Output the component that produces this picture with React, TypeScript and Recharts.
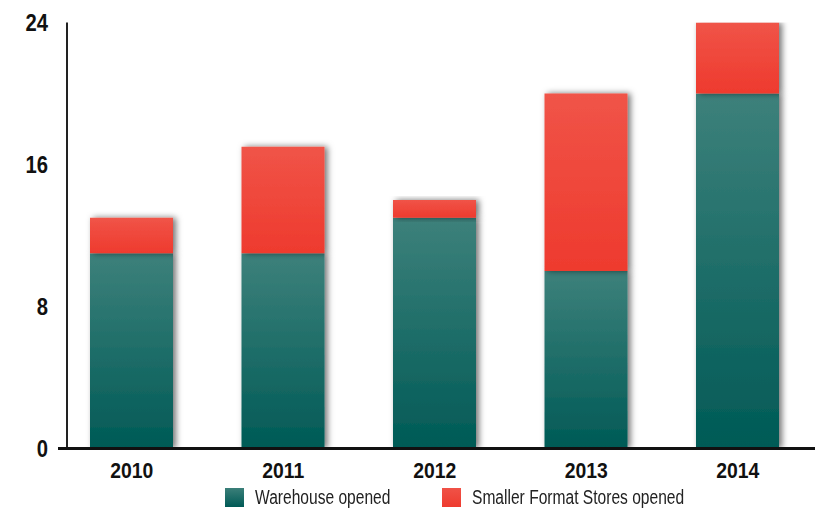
import React from 'react';
import { BarChart, Bar, XAxis, YAxis, Legend, Rectangle } from 'recharts';

const years = ['2010', '2011', '2012', '2013', '2014'];
const warehouseOpened = [11, 11, 13, 10, 20];
const smallerFormatOpened = [2, 6, 1, 10, 4];
const yTicks = [0, 8, 16, 24];
const seriesOrder = ['warehouse', 'smaller'];

const data = years.map((year, i) => ({
  year,
  warehouse: warehouseOpened[i],
  smaller: smallerFormatOpened[i],
}));

const FONT = '"Liberation Sans", Arial, sans-serif';

const TealShape = (props: any) => (
  <Rectangle {...props} fill="url(#tealGrad)" filter="url(#barShadow)" />
);
const RedShape = (props: any) => (
  <Rectangle {...props} fill="url(#redGrad)" filter="url(#barShadow)" />
);

const YTick = (props: any) => {
  const { x, y, payload } = props;
  return (
    <g>
      {payload.value === 0 && (
        <line x1={x + 10} x2={x + 20} y1={y} y2={y} stroke="#111" strokeWidth={3} />
      )}
      <text
        transform={`translate(${x},${y}) scale(0.88,1)`}
        x={0}
        y={0}
        dy="0.36em"
        textAnchor="end"
        fill="#111"
        fontFamily={FONT}
        fontWeight={700}
        fontSize={23}
      >
        {payload.value}
      </text>
    </g>
  );
};

const XTick = (props: any) => {
  const { x, y, payload } = props;
  return (
    <text
      transform={`translate(${x},${y}) scale(0.88,1)`}
      x={0}
      y={0}
      dy="0.75em"
      textAnchor="middle"
      fill="#111"
      fontFamily={FONT}
      fontWeight={700}
      fontSize={22}
    >
      {payload.value}
    </text>
  );
};

const legendColors: Record<string, [string, string]> = {
  warehouse: ['#3b7f79', '#005a56'],
  smaller: ['#f05247', '#ee3b2f'],
};
const legendLeft: Record<string, number> = { warehouse: 0, smaller: 217 };

const LegendContent = (props: any) => {
  const items = [...(props.payload || [])].sort(
    (a: any, b: any) => seriesOrder.indexOf(a.dataKey) - seriesOrder.indexOf(b.dataKey)
  );
  return (
    <div style={{ position: 'relative', width: 470, height: 20, fontFamily: FONT, fontSize: 19, color: '#222' }}>
      {items.map((p: any) => {
        const c = legendColors[p.dataKey];
        return (
          <div key={p.dataKey} style={{ position: 'absolute', left: legendLeft[p.dataKey], top: 0, display: 'flex', alignItems: 'center', whiteSpace: 'nowrap' }}>
            <div style={{ width: 19, height: 19, marginRight: 11, background: `linear-gradient(${c[0]}, ${c[1]})` }} />
            <span style={{ display: 'inline-block', transform: 'scale(0.82,1.05)', transformOrigin: 'left center', lineHeight: '19px' }}>{p.value}</span>
          </div>
        );
      })}
    </div>
  );
};

export default function App() {
  return (
    <div style={{ position: 'absolute', left: 0, top: 0, width: 817, height: 510, background: '#fff' }}>
      <BarChart width={817} height={510} data={data} margin={{ top: 22.5, right: 2, bottom: 0, left: 0 }}>
        <defs>
          <linearGradient id="tealGrad" x1="0" y1="0" x2="0" y2="1">
            <stop offset="0%" stopColor="#3d817b" />
            <stop offset="100%" stopColor="#005a56" />
          </linearGradient>
          <linearGradient id="redGrad" x1="0" y1="0" x2="0" y2="1">
            <stop offset="0%" stopColor="#f05448" />
            <stop offset="100%" stopColor="#ee3a2e" />
          </linearGradient>
          <filter id="barShadow" x="-20%" y="-20%" width="150%" height="140%">
            <feDropShadow dx={3} dy={0} stdDeviation={3} floodColor="#000" floodOpacity={0.55} />
          </filter>
        </defs>
        <XAxis
          dataKey="year"
          height={41.5}
          padding={{ left: -11, right: 1.5 }}
          axisLine={{ stroke: '#111', strokeWidth: 3 }}
          tickLine={false}
          tickSize={0}
          tickMargin={13}
          tick={<XTick />}
          interval={0}
        />
        <YAxis
          width={67}
          domain={[0, 24]}
          ticks={yTicks}
          axisLine={{ stroke: '#222', strokeWidth: 2 }}
          tickLine={false}
          tickSize={0}
          tickMargin={19}
          tick={<YTick />}
          allowDataOverflow
        />
        <Legend
          verticalAlign="bottom"
          content={<LegendContent />}
          wrapperStyle={{ position: 'absolute', left: 225, top: 488, width: 470, height: 20, bottom: 'auto' }}
        />
        <Bar dataKey="warehouse" name="Warehouse opened" stackId="a" barSize={83} shape={<TealShape />} fill="#1d6e69" isAnimationActive={false} />
        <Bar dataKey="smaller" name="Smaller Format Stores opened" stackId="a" barSize={83} shape={<RedShape />} fill="#ef4538" isAnimationActive={false} />
      </BarChart>
    </div>
  );
}
